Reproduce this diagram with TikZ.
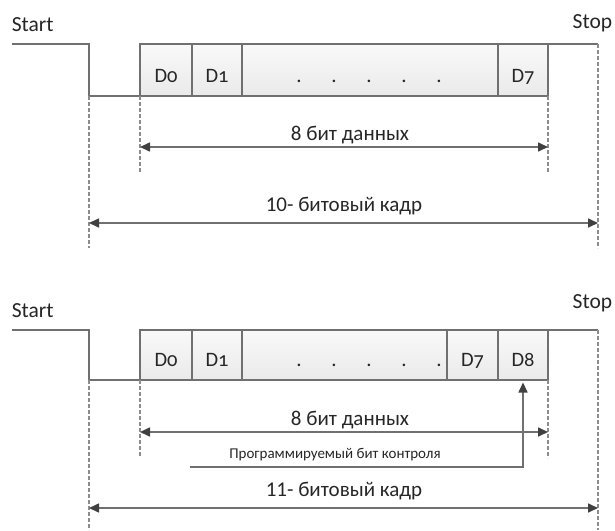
\documentclass[tikz,border=0pt]{standalone}
\usepackage{fontspec}
\setmainfont{Carlito}
\newfontfamily\dfont[Numbers=OldStyle]{Carlito}
\usepackage{tikz}
\usetikzlibrary{positioning,arrows.meta}
\definecolor{cLine}{RGB}{112,112,112}
\definecolor{cTip}{RGB}{64,64,64}
\definecolor{cGuide}{RGB}{140,140,140}
\definecolor{cText}{RGB}{38,38,38}
\definecolor{cCellTop}{RGB}{249,249,249}
\definecolor{cCellBot}{RGB}{234,234,234}

\begin{document}
\begin{tikzpicture}[x=1pt, y=-1pt, line width=1.6pt]
\useasboundingbox (0,0) rectangle (615,530);

% Стили.
\tikzset{
  txt/.style={text=cText, inner sep=0pt, anchor=base, font=\fontsize{21}{24}\selectfont},
  edge/.style={txt, font=\fontsize{21.5}{25}\selectfont},
  note/.style={txt, font=\fontsize{15}{17}\selectfont},
  cell/.style={draw=cLine, top color=cCellTop, bottom color=cCellBot, inner sep=0pt, outer sep=0pt,
    text=cText, font=\dfont\fontsize{20.5}{24}\selectfont, text depth=13.5pt},
  cellA/.style={cell, text height=38.5pt},
  cellB/.style={cell, text height=36.5pt},
  sig/.style={draw=cLine, line width=1.6pt},
  guide/.style={draw=cGuide, dash pattern=on 4pt off 2pt, line width=1.6pt},
  dim/.style={draw=cLine, line width=1.6pt, >={Triangle[length=10pt, width=9pt, color=cTip]}}
}

% Кадр из 10 бит.
\node (startA) [edge, anchor=base west] at (11,31.6) {Start};
\node (stopA)  [edge, anchor=base east] at (613,28.5) {Stop};

\node (d0A)  [cellA, minimum width=52pt, anchor=north west] at (140,44) {D0};
\node (d1A)  [cellA, minimum width=50pt, right=0pt of d0A] {D1};
\node (gapA) [cellA, minimum width=256pt, right=0pt of d1A] {};
\node (d7A)  [cellA, minimum width=50pt, right=0pt of gapA] {D7};
\foreach \x [count=\i] in {299,334,369,404,439}
  \node (dotA\i) [txt] at (\x,82.5) {.};

\coordinate (hiA)   at (12,44);
\coordinate (fallA) at (89,44);
\coordinate (lowA)  at (89,96);
\coordinate (endA)  at (598,44);
\draw[sig] (hiA) -- (fallA) -- (lowA) -- (d0A.south west);
\draw[sig] (d7A.north east) -- (endA);

% Пунктирные границы.
\coordinate (baseLA) at (89,248);
\coordinate (baseRA) at (598,248);
\coordinate (dataLA) at (140,172);
\coordinate (dataRA) at (548,172);
\draw[guide] (lowA) -- (baseLA);
\draw[guide] (endA) -- (baseRA);
\draw[guide] (d0A.south west) -- (dataLA);
\draw[guide] (d7A.south east) -- (dataRA);

% Размерные стрелки.
\coordinate (bitsLA)  at (140,147);
\coordinate (bitsRA)  at (548,147);
\coordinate (frameLA) at (89,223);
\coordinate (frameRA) at (598,223);
\draw[dim,<->] (bitsLA) -- (bitsRA);
\draw[dim,<->] (frameLA) -- (frameRA);
\node (bitsA)  [txt] at (350,140.5) {8 бит данных};
\node (frameA) [txt] at (344,211.5) {10- битовый кадр};

% Кадр из 11 бит.
\node (startB) [edge, anchor=base west] at (11,317) {Start};
\node (stopB)  [edge, anchor=base east] at (613,308.3) {Stop};

\node (d0B)  [cellB, minimum width=52pt, anchor=north west] at (140,330) {D0};
\node (d1B)  [cellB, minimum width=50pt, right=0pt of d0B] {D1};
\node (gapB) [cellB, minimum width=205pt, right=0pt of d1B] {};
\node (d7B)  [cellB, minimum width=51pt, right=0pt of gapB] {D7};
\node (d8B)  [cellB, minimum width=50pt, right=0pt of d7B] {D8};
\foreach \x [count=\i] in {299,334,369,404,439}
  \node (dotB\i) [txt] at (\x,366.5) {.};

\coordinate (hiB)   at (12,330);
\coordinate (fallB) at (89,330);
\coordinate (lowB)  at (89,380);
\coordinate (endB)  at (598,330);
\draw[sig] (hiB) -- (fallB) -- (lowB) -- (d0B.south west);
\draw[sig] (d8B.north east) -- (endB);

% Пунктирные границы.
\coordinate (baseLB) at (89,530);
\coordinate (baseRB) at (598,530);
\coordinate (dataLB) at (140,457);
\coordinate (dataRB) at (548,458);
\draw[guide] (lowB) -- (baseLB);
\draw[guide] (endB) -- (baseRB);
\draw[guide] (d0B.south west) -- (dataLB);
\draw[guide] (d8B.south east) -- (dataRB);

% Размерные стрелки и бит контроля.
\coordinate (bitsLB)  at (140,432);
\coordinate (bitsRB)  at (548,432);
\coordinate (frameLB) at (89,508);
\coordinate (frameRB) at (598,508);
\coordinate (progL)   at (190,467);
\draw[dim,<->] (bitsLB) -- (bitsRB);
\draw[dim,<->] (frameLB) -- (frameRB);
\draw[dim,->, shorten >=2.5pt] (progL) -| (d8B.south);
\node (bitsB)  [txt] at (350,425.5) {8 бит данных};
\node (progB)  [note] at (335,458.5) {Программируемый бит контроля};
\node (frameB) [txt] at (344,496) {11- битовый кадр};
\end{tikzpicture}
\end{document}
